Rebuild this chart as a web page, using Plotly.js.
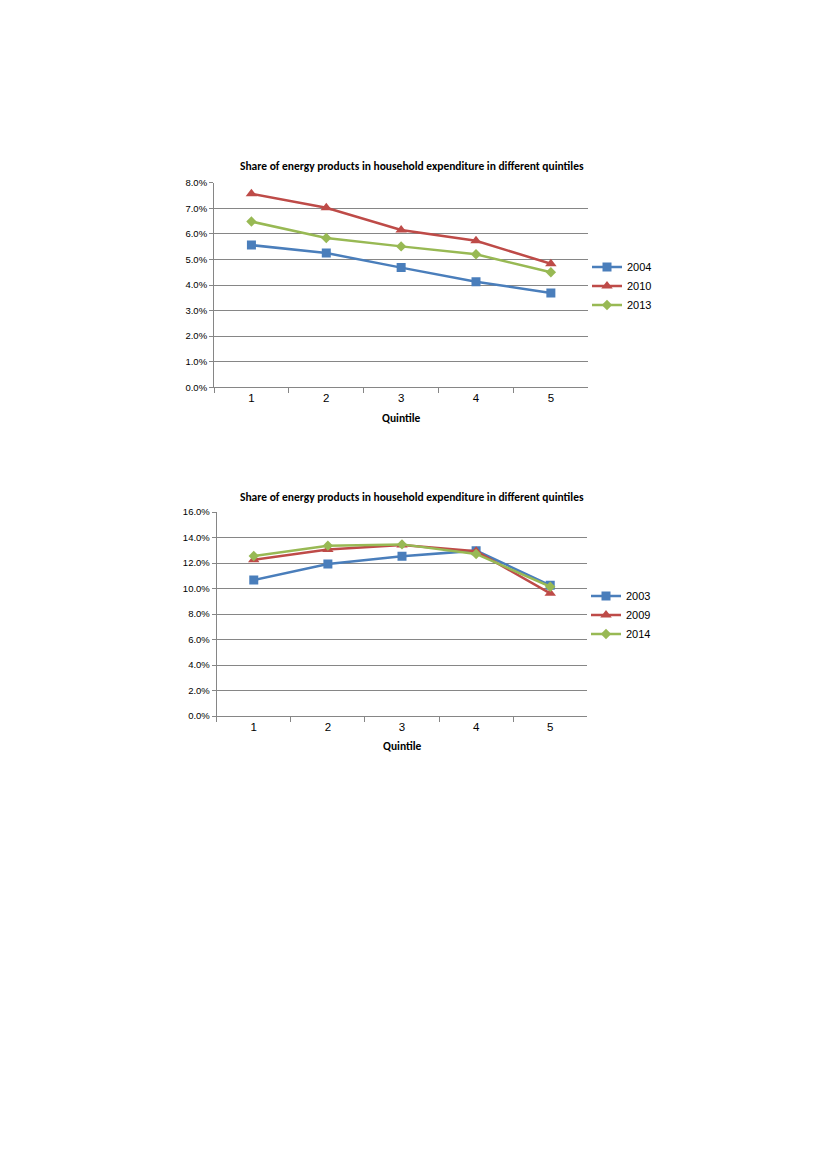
<!DOCTYPE html>
<html>
<head>
<meta charset="utf-8">
<script src="https://cdn.plot.ly/plotly-3.0.1.min.js"></script>
<style>
html,body{margin:0;padding:0;background:#fff;}
#chart{width:827px;height:1169px;}
</style>
</head>
<body>
<div id="chart"></div>
<script>
// Data (percent shares)
var quintiles = ['1', '2', '3', '4', '5'];
var chart1Title = 'Share of energy products in household expenditure in different quintiles';
var chart2Title = 'Share of energy products in household expenditure in different quintiles';
var xTitle = 'Quintile';

var chart1Years = ['2004', '2010', '2013'];
var c1_2004 = [5.56, 5.25, 4.68, 4.13, 3.69];
var c1_2010 = [7.57, 7.02, 6.15, 5.73, 4.83];
var c1_2013 = [6.48, 5.84, 5.51, 5.20, 4.50];

var chart2Years = ['2003', '2009', '2014'];
var c2_2003 = [10.67, 11.92, 12.52, 12.97, 10.25];
var c2_2009 = [12.26, 13.05, 13.41, 12.92, 9.62];
var c2_2014 = [12.55, 13.36, 13.46, 12.71, 10.14];

var W = 827, H = 1169;
function px(x){return x / W;}
function py(y){return 1 - y / H;}

var colors = ['#4A7EBB', '#BE4B48', '#98B954'];
var symbols = ['square', 'triangle-up', 'diamond'];
var sizes = [9, 10, 8];

function mk(x, y, name, i, xa, ya, leg) {
  return {
    x: x, y: y, name: name, type: 'scatter', mode: 'lines+markers',
    xaxis: xa, yaxis: ya, legend: leg,
    line: {color: colors[i], width: 2.5},
    marker: {symbol: symbols[i], size: sizes[i], color: colors[i]},
    hoverinfo: 'x+y+name'
  };
}

var traces = [
  mk(quintiles, c1_2004, chart1Years[0], 0, 'x', 'y', 'legend'),
  mk(quintiles, c1_2010, chart1Years[1], 1, 'x', 'y', 'legend'),
  mk(quintiles, c1_2013, chart1Years[2], 2, 'x', 'y', 'legend'),
  mk(quintiles, c2_2003, chart2Years[0], 0, 'x2', 'y2', 'legend2'),
  mk(quintiles, c2_2009, chart2Years[1], 1, 'x2', 'y2', 'legend2'),
  mk(quintiles, c2_2014, chart2Years[2], 2, 'x2', 'y2', 'legend2')
];

var gridC = '#868686';
var tickFont = {family: 'Liberation Sans, Arial, sans-serif', size: 9.5, color: '#000'};
var xTickFont = {family: 'Liberation Sans, Arial, sans-serif', size: 11.5, color: '#000'};
var titleFont = {family: 'Carlito, Liberation Sans Narrow, Arial Narrow, sans-serif', size: 11.5, color: '#000', weight: 'bold'};
var legFont = {family: 'Liberation Sans, Arial, sans-serif', size: 11, color: '#000'};

function xax(dom, anchor) {
  return {
    domain: dom, anchor: anchor, type: 'category',
    range: [-0.5, 4.5],
    showline: true, linecolor: gridC, linewidth: 1,
    ticks: 'outside', tickson: 'boundaries', ticklen: 5, tickcolor: gridC,
    showgrid: false, zeroline: false,
    tickfont: xTickFont, fixedrange: true
  };
}
function yax(dom, anchor, max, dt) {
  return {
    domain: dom, anchor: anchor,
    range: [0, max], dtick: dt, tick0: 0,
    tickformat: '.1f', ticksuffix: '%',
    showline: true, linecolor: gridC, linewidth: 1,
    ticks: 'outside', ticklen: 4, tickcolor: gridC,
    showgrid: true, gridcolor: gridC, gridwidth: 1,
    zeroline: false, tickfont: tickFont, fixedrange: true
  };
}

var layout = {
  width: W, height: H,
  margin: {l: 0, r: 0, t: 0, b: 0},
  paper_bgcolor: '#fff', plot_bgcolor: '#fff',
  showlegend: true,
  xaxis: xax([px(214), px(588.3)], 'y'),
  yaxis: yax([py(387.3), py(182.7)], 'x', 8, 1),
  xaxis2: xax([px(216.7), px(587.3)], 'y2'),
  yaxis2: yax([py(716), py(512)], 'x2', 16, 2),
  legend: {
    x: px(587), y: py(286), xanchor: 'left', yanchor: 'middle',
    font: legFont, bgcolor: 'rgba(0,0,0,0)', itemwidth: 30, tracegroupgap: 0
  },
  legend2: {
    x: px(586), y: py(615), xanchor: 'left', yanchor: 'middle',
    font: legFont, bgcolor: 'rgba(0,0,0,0)', itemwidth: 30, tracegroupgap: 0
  },
  annotations: [
    {text: chart1Title, xref: 'paper', yref: 'paper', x: px(411.7), y: py(166), xanchor: 'center', yanchor: 'middle', showarrow: false, font: titleFont},
    {text: xTitle, xref: 'paper', yref: 'paper', x: px(401), y: py(417.7), xanchor: 'center', yanchor: 'middle', showarrow: false, font: titleFont},
    {text: chart2Title, xref: 'paper', yref: 'paper', x: px(411.7), y: py(496.7), xanchor: 'center', yanchor: 'middle', showarrow: false, font: titleFont},
    {text: xTitle, xref: 'paper', yref: 'paper', x: px(402), y: py(746), xanchor: 'center', yanchor: 'middle', showarrow: false, font: titleFont}
  ]
};

Plotly.newPlot('chart', traces, layout, {displayModeBar: false, staticPlot: true});
</script>
</body>
</html>
